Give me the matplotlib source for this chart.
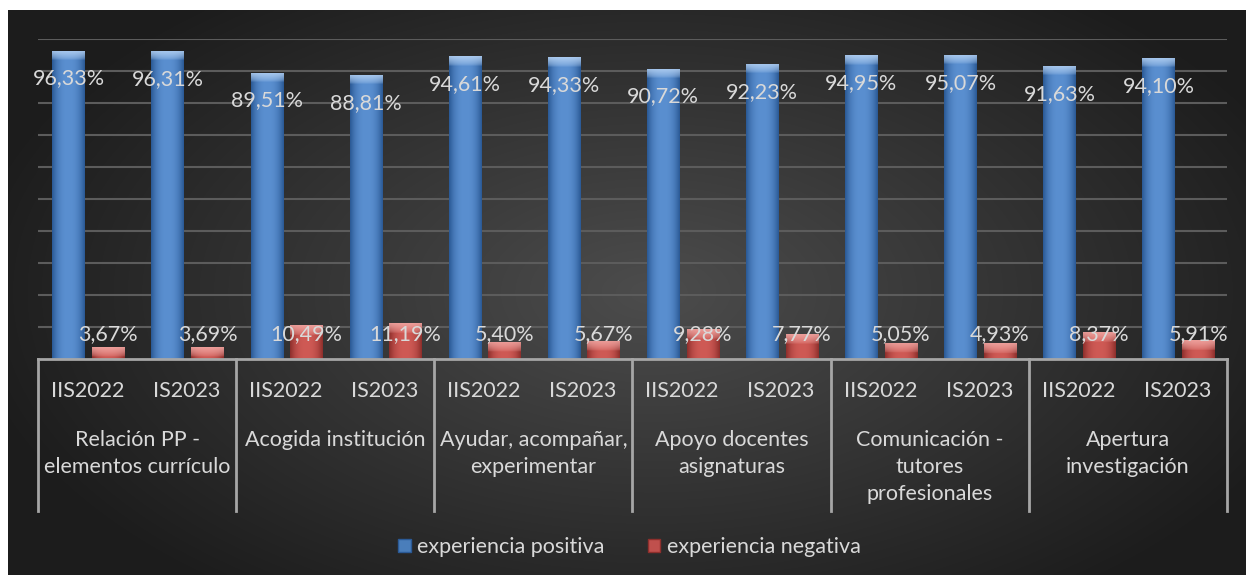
import matplotlib
matplotlib.use("Agg")
import matplotlib.pyplot as plt
import matplotlib.transforms as mtransforms
from matplotlib.patches import Patch
import numpy as np

# data
grupos = ["Relación PP -\nelementos currículo", "Acogida institución",
          "Ayudar, acompañar,\nexperimentar", "Apoyo docentes\nasignaturas",
          "Comunicación -\ntutores\nprofesionales", "Apertura\ninvestigación"]
periodos = ["IIS2022", "IS2023"]
positiva = [96.33, 96.31, 89.51, 88.81, 94.61, 94.33, 90.72, 92.23, 94.95, 95.07, 91.63, 94.10]
negativa = [3.67, 3.69, 10.49, 11.19, 5.40, 5.67, 9.28, 7.77, 5.05, 4.93, 8.37, 5.91]

plt.rcParams['font.family'] = ['Lato', 'DejaVu Sans']
txt_col = "#d9d9d9"
fs = 15.5

fig = plt.figure(figsize=(12.46, 5.75), dpi=100)
fig.patch.set_facecolor("white")

# dark radial background
bg = fig.add_axes([8 / 1246, 0, 1 - 8 / 1246, 565 / 575])
bg.set_axis_off()
yy, xx = np.mgrid[0:1:300j, 0:1:600j]
r = np.sqrt(((xx - 0.52) / 0.75) ** 2 + ((yy - 0.5) / 0.9) ** 2)
shade = np.clip(0.30 - 0.19 * np.clip(r / 0.75, 0, 1), 0, 1)
bg.imshow(np.dstack([shade] * 3), aspect="auto", extent=(0, 1, 0, 1), interpolation="bilinear")
bg.set_xlim(0, 1)
bg.set_ylim(0, 1)

ax = fig.add_axes([38 / 1246, 216 / 575, 1189 / 1246, 320 / 575])
ax.set_facecolor("none")

n = len(positiva)
x = np.arange(n)
w = 0.33
xb = x - 0.19
xr = x + 0.21

bars_b = ax.bar(xb, positiva, w, color="#4a7ebb", zorder=2)
bars_r = ax.bar(xr, negativa, w, color="#c0504d", zorder=2)


def shade_bar(bar, dark, mid, cap):
    x0 = bar.get_x()
    h = bar.get_height()
    cols = 40
    t = np.linspace(-1, 1, cols)
    prof = 1 - np.abs(t) ** 2.5
    dark, mid, cap = [np.array(matplotlib.colors.to_rgb(c)) for c in (dark, mid, cap)]
    row = dark[None, :] * (1 - prof[:, None]) + mid[None, :] * prof[:, None]
    rows = max(int(h * 4), 8)
    img = np.repeat(row[None, :, :], rows, axis=0)
    cap_rows = int(round(3.0 / h * rows))
    cap_rows = min(max(cap_rows, 2), rows)
    for k in range(cap_rows):
        a = 0.85 * (1 - k / cap_rows) ** 0.6
        img[k] = img[k] * (1 - a) + cap[None, :] * a
    im = ax.imshow(img, extent=(x0, x0 + bar.get_width(), 0, h), aspect="auto",
                   interpolation="bilinear", zorder=3, origin="upper")
    im.set_clip_path(bar)


for b in bars_b:
    shade_bar(b, "#2b5a96", "#5a8fd0", "#b8d4f4")
for b in bars_r:
    shade_bar(b, "#8e2f2c", "#cf5a55", "#f2aaa6")

ax.set_xlim(-0.5, n - 0.5)
ax.set_ylim(0, 100)
ax.set_yticks(np.arange(10, 101, 10))
ax.yaxis.grid(True, color="#5c5c5c", lw=1.5, zorder=0)
ax.set_axisbelow(True)
ax.tick_params(left=False, labelleft=False, bottom=False, labelbottom=False)
for s in ax.spines.values():
    s.set_visible(False)
ax.axhline(0, color="#a6a6a6", lw=2, zorder=4, clip_on=False)

# data labels
for xi, v in zip(xb, positiva):
    ax.text(xi, v - 8.7, f"{v:.2f}%".replace(".", ","), ha="center", va="center",
            color=txt_col, fontsize=fs, zorder=5)
for xi, v in zip(xr, negativa):
    ax.text(xi, 7.8, f"{v:.2f}%".replace(".", ","), ha="center", va="center",
            color=txt_col, fontsize=fs, zorder=5)

# two-level category axis
trans = mtransforms.blended_transform_factory(ax.transData, ax.transAxes)
for k in range(len(grupos) + 1):
    ax.plot([2 * k - 0.5, 2 * k - 0.5], [0, -0.475], transform=trans, color="#a6a6a6",
            lw=2, clip_on=False, zorder=4)
for i in range(n):
    ax.text(i, -0.1, periodos[i % 2], transform=trans, ha="center", va="center",
            color=txt_col, fontsize=fs)
for g, lab in enumerate(grupos):
    ax.text(2 * g + 0.5, -0.222, lab, transform=trans, ha="center", va="top",
            color=txt_col, fontsize=fs, linespacing=1.45)

handles = [Patch(facecolor="#4a7ebb", edgecolor="#2b5a96", label="experiencia positiva"),
           Patch(facecolor="#c0504d", edgecolor="#8e2f2c", label="experiencia negativa")]
fig.legend(handles=handles, loc="center", bbox_to_anchor=(0.505, 1 - 547 / 575), ncol=2,
           frameon=False, fontsize=fs, labelcolor=txt_col, handlelength=0.6,
           handleheight=0.6, handletextpad=0.3, columnspacing=2.0)

fig.savefig("out.png", dpi=100)
